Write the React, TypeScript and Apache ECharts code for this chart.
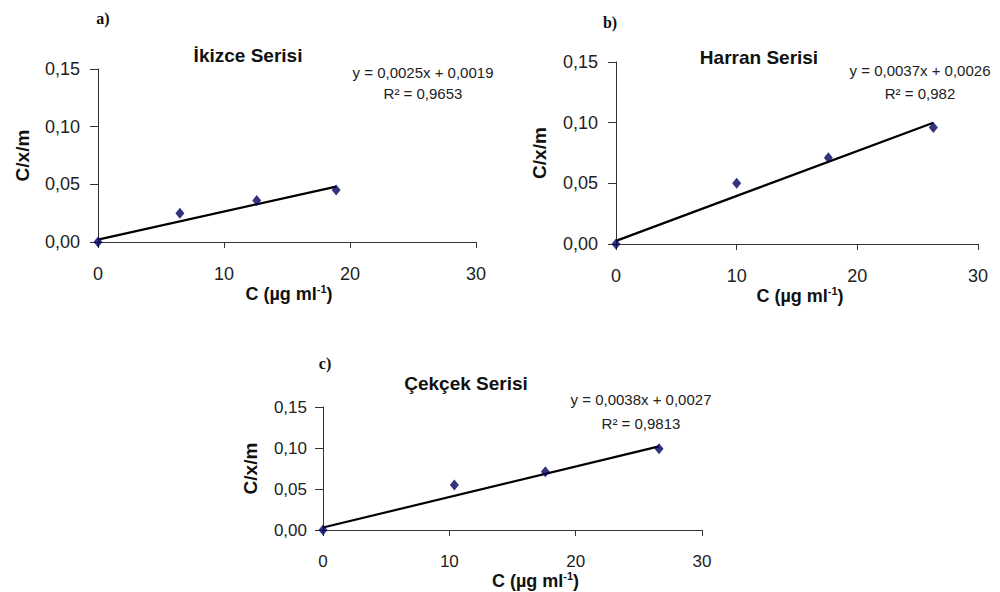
import React, { useEffect, useRef } from "react";
import * as echarts from "echarts";

// ---- data ----
const panelLetters = ["a)", "b)", "c)"];
const panelTitles = ["İkizce Serisi", "Harran Serisi", "Çekçek Serisi"];
const equations = ["y = 0,0025x + 0,0019", "y = 0,0037x + 0,0026", "y = 0,0038x + 0,0027"];
const rSquared = ["R² = 0,9653", "R² = 0,982", "R² = 0,9813"];

const ikizceC = [0, 6.5, 12.6, 18.9];
const ikizceQ = [0.0, 0.025, 0.036, 0.045];
const harranC = [0, 10.0, 17.6, 26.3];
const harranQ = [0.0, 0.05, 0.071, 0.096];
const cekcekC = [0, 10.4, 17.6, 26.6];
const cekcekQ = [0.0, 0.055, 0.071, 0.099];

// trendline end points
const ikizceTrendC = [0, 18.9];
const ikizceTrendQ = [0.002, 0.048];
const harranTrendC = [0, 26.3];
const harranTrendQ = [0.0026, 0.1];
const cekcekTrendC = [0, 26.6];
const cekcekTrendQ = [0.003, 0.102];

const xTicks = { min: 0, max: 30, interval: 10 };
const yTicks = { min: 0, max: 0.15, interval: 0.05 };

const zip = (a: number[], b: number[]) => a.map((v, i) => [v, b[i]]);

const FONT = '"Liberation Sans", Arial, sans-serif';
const AXIS = "#333";

export default function App() {
  const ref = useRef<HTMLDivElement>(null);
  useEffect(() => {
    if (!ref.current) return;
    const chart = echarts.init(ref.current, undefined, { renderer: "svg" });

    const grids = [
      { left: 98, top: 69, width: 378, height: 173 },
      { left: 616, top: 62, width: 362, height: 182 },
      { left: 323, top: 407, width: 379, height: 123 },
    ];
    const tickFont = [18, 18, 17];
    const xLabelMargin = [23, 23, 23];
    const yNameGap = [66, 67, 63];
    const xNameGap = [38, 39, 40];
    const xNamePad = [[0, 0, 0, 4], [0, 0, 0, 6], [0, 0, 0, 46]];

    const scatterSets = [zip(ikizceC, ikizceQ), zip(harranC, harranQ), zip(cekcekC, cekcekQ)];
    const trendSets = [
      zip(ikizceTrendC, ikizceTrendQ),
      zip(harranTrendC, harranTrendQ),
      zip(cekcekTrendC, cekcekTrendQ),
    ];

    const xAxis = grids.map((_, i) => ({
      type: "value",
      gridIndex: i,
      ...xTicks,
      axisLine: { show: true, onZero: false, lineStyle: { color: AXIS, width: 1 } },
      axisTick: { show: true, length: 6, lineStyle: { color: AXIS } },
      splitLine: { show: false },
      axisLabel: { fontSize: tickFont[i], color: "#222", fontFamily: FONT, margin: xLabelMargin[i] },
      name: "{b|C (µg ml}{s|-1}{b|)}",
      nameLocation: "middle",
      nameGap: xNameGap[i],
      nameTextStyle: {
        padding: xNamePad[i],
        rich: {
          b: { fontSize: 18, fontWeight: "bold", fontFamily: FONT, color: "#111", lineHeight: 20 },
          s: { fontSize: 11, fontWeight: "bold", fontFamily: FONT, color: "#111", verticalAlign: "top", lineHeight: 20 },
        },
      },
    }));

    const yAxis = grids.map((_, i) => ({
      type: "value",
      gridIndex: i,
      ...yTicks,
      axisLine: { show: true, onZero: false, lineStyle: { color: AXIS, width: 1 } },
      axisTick: { show: true, length: 8, lineStyle: { color: AXIS } },
      splitLine: { show: false },
      axisLabel: {
        fontSize: tickFont[i],
        color: "#222",
        fontFamily: FONT,
        margin: i === 2 ? 16 : 18,
        formatter: (v: number) => v.toFixed(2).replace(".", ","),
      },
      name: "C/x/m",
      nameLocation: "middle",
      nameGap: yNameGap[i],
      nameTextStyle: { fontSize: 19, fontWeight: "bold", fontFamily: FONT, color: "#111" },
    }));

    const series: any[] = [];
    grids.forEach((_, i) => {
      series.push({
        type: "line",
        xAxisIndex: i,
        yAxisIndex: i,
        data: trendSets[i],
        symbol: "none",
        lineStyle: { color: "#000", width: 2.2 },
        z: 2,
      });
      series.push({
        type: "scatter",
        xAxisIndex: i,
        yAxisIndex: i,
        data: scatterSets[i],
        symbol: "diamond",
        symbolSize: [9, 11],
        itemStyle: { color: "#000060" },
        z: 3,
      });
    });

    const txt = (text: string, x: number, y: number, font: string, color = "#111") => ({
      type: "text",
      x,
      y,
      style: {
        text,
        font,
        fill: color,
        textAlign: "center",
        textVerticalAlign: "middle",
        align: "center",
        verticalAlign: "middle",
      },
    });

    const letterPos = [[103, 18], [610, 22], [325, 363]];
    const titlePos = [[248, 55], [759, 57], [466, 383]];
    const eqPos = [[423, 72, 93], [920, 70, 93], [641, 399, 423]];
    const eqFont = [15, 15, 15];

    const graphic: any[] = [];
    for (let i = 0; i < 3; i++) {
      graphic.push(txt(panelLetters[i], letterPos[i][0], letterPos[i][1], 'bold 16px "Liberation Serif", "Times New Roman", serif'));
      graphic.push(txt(panelTitles[i], titlePos[i][0], titlePos[i][1], `bold 19px ${FONT}`));
      graphic.push(txt(equations[i], eqPos[i][0], eqPos[i][1], `${eqFont[i]}px ${FONT}`, "#222"));
      graphic.push(txt(rSquared[i], eqPos[i][0], eqPos[i][2], `${eqFont[i]}px ${FONT}`, "#222"));
    }

    chart.setOption({
      animation: false,
      backgroundColor: "#fff",
      grid: grids,
      xAxis,
      yAxis,
      series,
      graphic,
    });
    return () => chart.dispose();
  }, []);

  return (
    <div
      ref={ref}
      style={{ position: "absolute", left: 0, top: 0, width: 1000, height: 592, background: "#fff" }}
    />
  );
}
